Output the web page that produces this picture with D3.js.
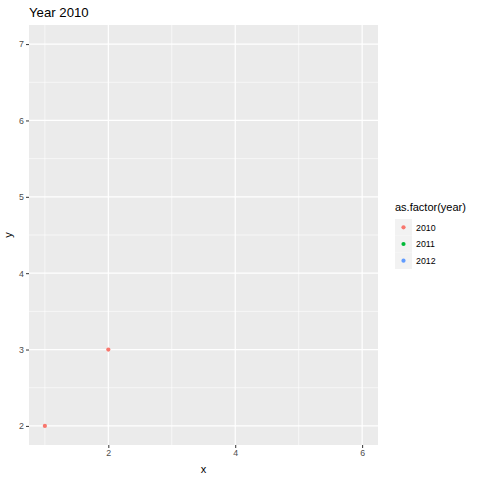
<!DOCTYPE html>
<html><head><meta charset="utf-8">
<script src="https://cdn.jsdelivr.net/npm/d3@7"></script>
<style>body{margin:0;background:#fff}text{font-family:"Liberation Sans",Arial,sans-serif}</style>
</head><body><svg id="c" width="480" height="480"></svg>
<script>
const xs = [1, 2];
const ys = [2, 3];
const years = [2010, 2010];
const legendYears = [2010, 2011, 2012];
const legendColors = ["#F8766D", "#00BA38", "#619CFF"];
const xTicks = [2, 4, 6];
const xMinor = [1, 3, 5];
const yTicks = [2, 3, 4, 5, 6, 7];
const yMinor = [2.5, 3.5, 4.5, 5.5, 6.5];
const title = "Year 2010";

const svg = d3.select("#c");
const L = 29, R = 378, T = 25, B = 445;
const x = d3.scaleLinear().domain([0.75, 6.25]).range([L, R]);
const y = d3.scaleLinear().domain([1.75, 7.25]).range([B, T]);
const color = d3.scaleOrdinal().domain(legendYears).range(legendColors);

svg.append("rect").attr("x", L).attr("y", T).attr("width", R - L).attr("height", B - T).attr("fill", "#EBEBEB");
const g = svg.append("g");
g.selectAll(".xm").data(xMinor).join("line").attr("x1", d => x(d)).attr("x2", d => x(d)).attr("y1", T).attr("y2", B).attr("stroke", "#fff").attr("stroke-width", 0.6);
g.selectAll(".ym").data(yMinor).join("line").attr("y1", d => y(d)).attr("y2", d => y(d)).attr("x1", L).attr("x2", R).attr("stroke", "#fff").attr("stroke-width", 0.6);
g.selectAll(".xM").data(xTicks).join("line").attr("x1", d => x(d)).attr("x2", d => x(d)).attr("y1", T).attr("y2", B).attr("stroke", "#fff").attr("stroke-width", 1.2);
g.selectAll(".yM").data(yTicks).join("line").attr("y1", d => y(d)).attr("y2", d => y(d)).attr("x1", L).attr("x2", R).attr("stroke", "#fff").attr("stroke-width", 1.2);

const xAxis = svg.append("g").attr("transform", `translate(0,${B})`)
  .call(d3.axisBottom(x).tickValues(xTicks).tickSize(3).tickPadding(2).tickFormat(d3.format("d")));
const yAxis = svg.append("g").attr("transform", `translate(${L},0)`)
  .call(d3.axisLeft(y).tickValues(yTicks).tickSize(3).tickPadding(2).tickFormat(d3.format("d")));
[xAxis, yAxis].forEach(a => {
  a.select(".domain").remove();
  a.selectAll(".tick line").attr("stroke", "#333").attr("stroke-width", 1);
  a.selectAll(".tick text").attr("fill", "#4D4D4D").style("font-size", "8.8px").style("font-family", "Liberation Sans, Arial, sans-serif");
});

svg.selectAll(".pt").data(xs.map((d, i) => ({x: d, y: ys[i], yr: years[i]}))).join("circle")
  .attr("cx", d => x(d.x)).attr("cy", d => y(d.y)).attr("r", 2.1).attr("fill", d => color(d.yr));

svg.append("text").attr("x", L).attr("y", 17).text(title).style("font-size", "13.2px").attr("fill", "#000");
svg.append("text").attr("x", (L + R) / 2).attr("y", 473).attr("text-anchor", "middle").text("x").style("font-size", "11px");
svg.append("text").attr("transform", `translate(12,${(T + B) / 2}) rotate(-90)`).attr("text-anchor", "middle").text("y").style("font-size", "11px");

const lg = svg.append("g");
lg.append("text").attr("x", 395).attr("y", 211).text("as.factor(year)").style("font-size", "11px");
const ly = d3.scaleBand().domain(legendYears).range([219, 269]);
lg.selectAll(".kb").data(legendYears).join("rect").attr("x", 395).attr("y", d => ly(d)).attr("width", 17).attr("height", ly.bandwidth()).attr("fill", "#F2F2F2");
lg.selectAll(".kp").data(legendYears).join("circle").attr("cx", 403.5).attr("cy", d => ly(d) + ly.bandwidth() / 2).attr("r", 2.1).attr("fill", d => color(d));
lg.selectAll(".kt").data(legendYears).join("text").attr("x", 416).attr("y", d => ly(d) + ly.bandwidth() / 2 + 3.2).text(d => d).style("font-size", "8.8px");
</script></body></html>
